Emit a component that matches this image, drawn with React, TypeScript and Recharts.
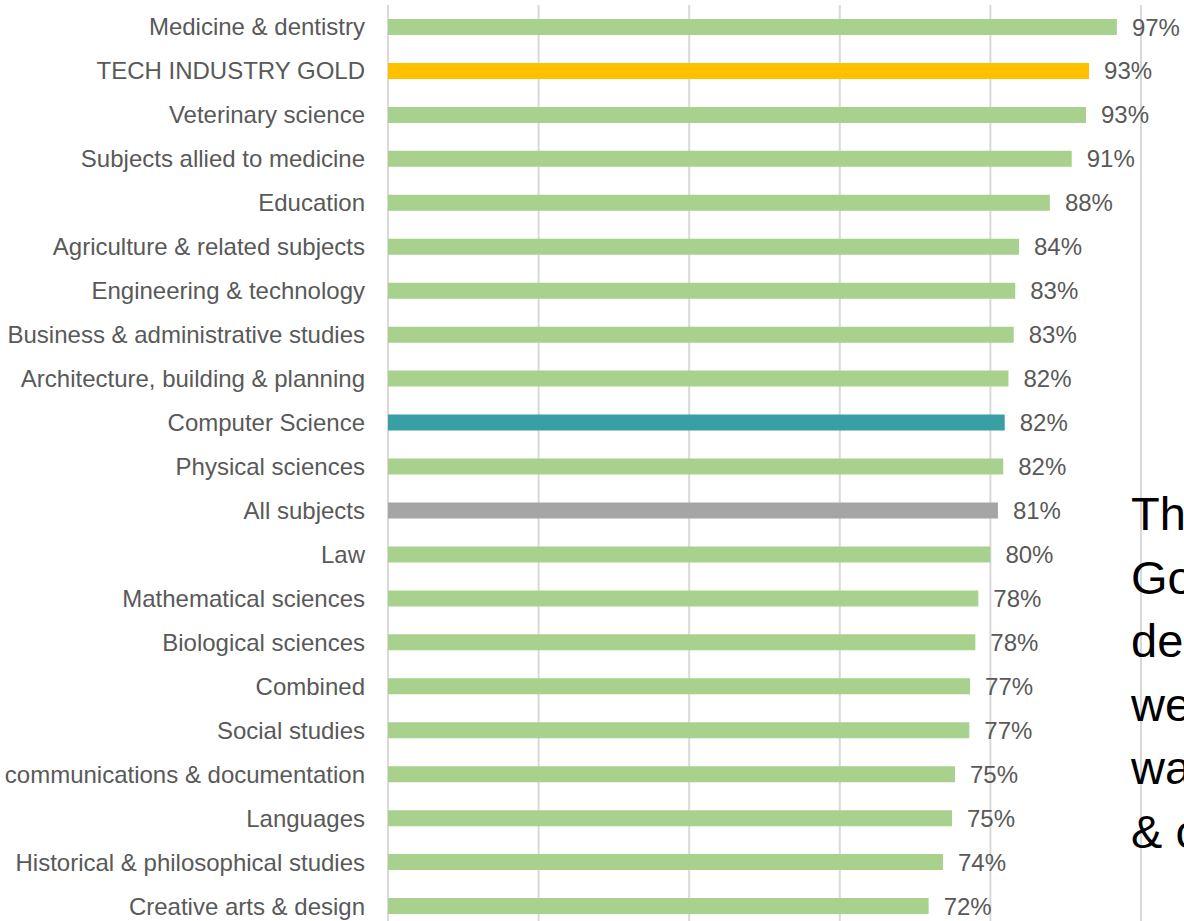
import { BarChart, Bar, XAxis, YAxis, CartesianGrid, Cell, LabelList } from 'recharts';

const SUBJECTS = [
  'Medicine & dentistry',
  'TECH INDUSTRY GOLD',
  'Veterinary science',
  'Subjects allied to medicine',
  'Education',
  'Agriculture & related subjects',
  'Engineering & technology',
  'Business & administrative studies',
  'Architecture, building & planning',
  'Computer Science',
  'Physical sciences',
  'All subjects',
  'Law',
  'Mathematical sciences',
  'Biological sciences',
  'Combined',
  'Social studies',
  'communications & documentation',
  'Languages',
  'Historical & philosophical studies',
  'Creative arts & design',
];

const RATES = [
  96.8, 93.1, 92.7, 90.8, 87.9, 83.8, 83.3, 83.1, 82.4, 81.9, 81.7,
  81.0, 80.0, 78.4, 78.0, 77.3, 77.2, 75.3, 74.9, 73.7, 71.8,
];

const X_TICKS = [0, 20, 40, 60, 80, 100];

const HIGHLIGHT: Record<string, string> = {
  'TECH INDUSTRY GOLD': '#ffc000',
  'Computer Science': '#3a9fa4',
  'All subjects': '#a5a5a5',
};
const DEFAULT_FILL = '#a9d18e';

const NOTE_LINES = ['Th', 'Go', 'de', 'we', 'wa', '& c'];

const FONT = '"Liberation Sans", Arial, sans-serif';

const data = SUBJECTS.map((name, i) => ({ name, value: RATES[i] }));

export default function App() {
  return (
    <div
      style={{
        position: 'absolute',
        left: 0,
        top: 0,
        width: 1184,
        height: 921,
        overflow: 'hidden',
        background: '#fff',
        fontFamily: FONT,
      }}
    >
      <BarChart
        width={1184}
        height={930}
        data={data}
        layout="vertical"
        margin={{ top: 5, right: 43, bottom: 2, left: 0 }}
      >
        <CartesianGrid horizontal={false} stroke="#d9d9d9" strokeWidth={2} />
        <XAxis type="number" domain={[0, 100]} ticks={X_TICKS} hide />
        <YAxis
          type="category"
          dataKey="name"
          width={388}
          interval={0}
          tickLine={false}
          axisLine={false}
          tickSize={0}
          tickMargin={23}
          tick={{ fontSize: 24, fill: '#595959', fontFamily: FONT }}
        />
        <Bar dataKey="value" barSize={16} isAnimationActive={false}>
          {data.map((d) => (
            <Cell key={d.name} fill={HIGHLIGHT[d.name] ?? DEFAULT_FILL} />
          ))}
          <LabelList
            dataKey="value"
            position="right"
            offset={15}
            formatter={(v: number) => `${Math.round(v)}%`}
            style={{ fontSize: 24, fill: '#595959', fontFamily: FONT }}
          />
        </Bar>
      </BarChart>
      <div
        style={{
          position: 'absolute',
          left: 1131,
          top: 482,
          fontSize: 47,
          lineHeight: '63.6px',
          color: '#000',
          whiteSpace: 'nowrap',
        }}
      >
        {NOTE_LINES.map((t) => (
          <div key={t}>{t}</div>
        ))}
      </div>
    </div>
  );
}
